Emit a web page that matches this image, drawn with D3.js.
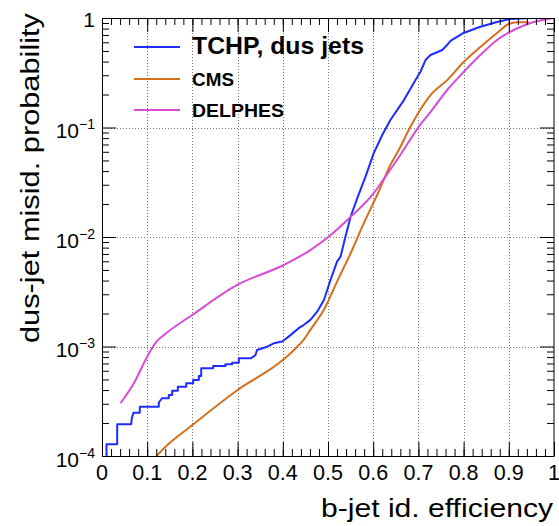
<!DOCTYPE html>
<html>
<head>
<meta charset="utf-8">
<script src="https://cdn.jsdelivr.net/npm/d3@7"></script>
<style>
  body { margin: 0; background: #fff; }
  svg { display: block; font-family: "Liberation Sans", Arial, Helvetica, sans-serif; }
</style>
</head>
<body>
<div id="chart"></div>
<script>
// TCHP, dus jets (step-like curve)
const tchpEff = [0.010, 0.010, 0.0336, 0.0336, 0.0646, 0.066, 0.0697, 0.0836, 0.0836, 0.1257, 0.1257, 0.1327, 0.1478, 0.1478,
  0.1553, 0.1553, 0.1677, 0.1677, 0.1863, 0.1863, 0.2018, 0.2018, 0.2142, 0.2142, 0.2195, 0.2195, 0.246, 0.246, 0.273, 0.273,
  0.288, 0.288, 0.3027, 0.3027, 0.330, 0.3396, 0.343, 0.3655, 0.380, 0.3987, 0.417, 0.435, 0.446, 0.461, 0.476, 0.491, 0.5055,
  0.520, 0.5277, 0.5387, 0.550, 0.5646, 0.583, 0.601, 0.620, 0.638, 0.668, 0.6936, 0.7046, 0.7157, 0.7268, 0.7527, 0.7637,
  0.771, 0.800, 0.837, 0.874, 0.904, 0.948];
const tchpMis = [1.0e-4, 1.28e-4, 1.28e-4, 1.95e-4, 1.95e-4, 2.22e-4, 2.48e-4, 2.48e-4, 2.82e-4, 2.82e-4, 3.08e-4, 3.37e-4, 3.37e-4, 3.61e-4,
  3.61e-4, 3.95e-4, 3.95e-4, 4.29e-4, 4.29e-4, 4.61e-4, 4.61e-4, 4.94e-4, 4.94e-4, 5.38e-4, 5.38e-4, 6.32e-4, 6.32e-4, 6.64e-4, 6.64e-4, 6.88e-4,
  6.88e-4, 7.11e-4, 7.11e-4, 7.80e-4, 7.80e-4, 8.36e-4, 9.29e-4, 9.96e-4, 1.07e-3, 1.11e-3, 1.27e-3, 1.47e-3, 1.57e-3, 1.75e-3, 2.08e-3, 2.66e-3, 4.05e-3,
  5.95e-3, 6.61e-3, 1.01e-2, 1.53e-2, 2.25e-2, 3.56e-2, 5.81e-2, 8.54e-2, 0.117, 0.178, 0.271, 0.323, 0.413, 0.459, 0.510, 0.567,
  0.617, 0.730, 0.833, 0.92, 0.98, 1.0];

const cmsEff = [0.1206, 0.1354, 0.200, 0.300, 0.402, 0.432, 0.446, 0.461, 0.4945, 0.520, 0.550, 0.579, 0.612, 0.638, 0.6566,
  0.6825, 0.7268, 0.7637, 0.800, 0.837, 0.874, 0.900, 0.9186, 0.944];
const cmsMis = [1.0e-4, 1.16e-4, 1.92e-4, 4.01e-4, 7.64e-4, 9.96e-4, 1.15e-3, 1.42e-3, 2.31e-3, 3.91e-3, 7.10e-3, 1.33e-2, 2.59e-2, 4.54e-2, 6.23e-2,
  0.102, 0.198, 0.271, 0.396, 0.543, 0.730, 0.881, 0.913, 0.913];

const delphesEff = [0.041, 0.0704, 0.100, 0.120, 0.140, 0.1996, 0.299, 0.402, 0.461, 0.502, 0.550, 0.598, 0.627, 0.660, 0.701,
  0.727, 0.7637, 0.800, 0.837, 0.874, 0.911, 0.948, 1.0];
const delphesMis = [3.03e-4, 4.61e-4, 8.07e-4, 1.10e-3, 1.30e-3, 1.94e-3, 3.65e-3, 5.55e-3, 7.60e-3, 1.01e-2, 1.53e-2, 2.42e-2, 3.56e-2, 5.61e-2, 0.102,
  0.139, 0.220, 0.321, 0.459, 0.630, 0.777, 0.90, 1.0];

const seriesNames = ["TCHP, dus jets", "CMS", "DELPHES"];
const seriesColors = ["#1f2bff", "#d2701e", "#d64cd8"];

const xTicks = [0, 0.1, 0.2, 0.3, 0.4, 0.5, 0.6, 0.7, 0.8, 0.9, 1];
const xTickLabels = ["0", "0.1", "0.2", "0.3", "0.4", "0.5", "0.6", "0.7", "0.8", "0.9", "1"];
const yTicks = [1, 1e-1, 1e-2, 1e-3, 1e-4];
const yExponents = ["", "\u22121", "\u22122", "\u22123", "\u22124"];

const W = 559, H = 526;
const margin = {top: 18, right: 5, bottom: 70, left: 102};
const width = W - margin.left - margin.right,
    height = H - margin.top - margin.bottom;

const svg = d3.select("#chart")
  .append("svg")
    .attr("width", W)
    .attr("height", H);

const g = svg.append("g")
    .attr("transform", "translate(" + margin.left + "," + margin.top + ")");

const x = d3.scaleLinear().domain([0, 1]).range([0, width]);
const y = d3.scaleLog().domain([1e-4, 1]).range([height, 0]);

// grid
const minorX = d3.range(0, 1.0001, 0.02);
const minorY = [];
[1e-4, 1e-3, 1e-2, 1e-1].forEach(d => { for (let k = 2; k <= 9; k++) minorY.push(d * k); });

g.append("g").selectAll("line")
  .data(xTicks.slice(1, -1))
  .join("line")
    .attr("x1", d => Math.round(x(d)) + 0.5)
    .attr("x2", d => Math.round(x(d)) + 0.5)
    .attr("y1", 0)
    .attr("y2", height)
    .attr("stroke", "#777")
    .attr("stroke-dasharray", "1,2");

g.append("g").selectAll("line")
  .data(yTicks.slice(1, -1))
  .join("line")
    .attr("x1", 0)
    .attr("x2", width)
    .attr("y1", d => Math.round(y(d)) + 0.5)
    .attr("y2", d => Math.round(y(d)) + 0.5)
    .attr("stroke", "#777")
    .attr("stroke-dasharray", "1,2");

// curves
g.append("clipPath").attr("id", "plotclip")
  .append("rect").attr("width", width).attr("height", height);

const stepLine = d3.line()
  .x(d => x(d[0]))
  .y(d => y(d[1]));
const smoothLine = d3.line()
  .x(d => x(d[0]))
  .y(d => y(d[1]))
  .curve(d3.curveMonotoneX);

const series = [
  d3.zip(tchpEff, tchpMis),
  d3.zip(cmsEff, cmsMis),
  d3.zip(delphesEff, delphesMis)
];

g.append("g")
  .attr("clip-path", "url(#plotclip)")
  .selectAll("path")
  .data(series)
  .join("path")
    .attr("d", (d, i) => i === 0 ? stepLine(d) : smoothLine(d))
    .attr("fill", "none")
    .attr("stroke", (d, i) => seriesColors[i])
    .attr("stroke-width", 2)
    .attr("stroke-linejoin", "round");

// axes, ROOT style: ticks inside on all four sides
function styleAxis(sel) {
  sel.select(".domain").remove();
  sel.selectAll(".tick line").attr("stroke", "#000");
  sel.selectAll(".tick text").remove();
}

g.append("g").attr("transform", "translate(0," + height + ")")
  .call(d3.axisBottom(x).tickValues(xTicks).tickSize(-14).tickFormat("")).call(styleAxis);
g.append("g").attr("transform", "translate(0," + height + ")")
  .call(d3.axisBottom(x).tickValues(minorX).tickSize(-7).tickFormat("")).call(styleAxis);
g.append("g")
  .call(d3.axisTop(x).tickValues(xTicks).tickSize(-14).tickFormat("")).call(styleAxis);
g.append("g")
  .call(d3.axisTop(x).tickValues(minorX).tickSize(-7).tickFormat("")).call(styleAxis);

g.append("g")
  .call(d3.axisLeft(y).tickValues(yTicks).tickSize(-14).tickFormat("")).call(styleAxis);
g.append("g")
  .call(d3.axisLeft(y).tickValues(minorY).tickSize(-7).tickFormat("")).call(styleAxis);
g.append("g").attr("transform", "translate(" + width + ",0)")
  .call(d3.axisRight(y).tickValues(yTicks).tickSize(-14).tickFormat("")).call(styleAxis);
g.append("g").attr("transform", "translate(" + width + ",0)")
  .call(d3.axisRight(y).tickValues(minorY).tickSize(-7).tickFormat("")).call(styleAxis);

g.append("rect")
  .attr("x", 0.5).attr("y", 0.5)
  .attr("width", width - 0.5).attr("height", height)
  .attr("fill", "none")
  .attr("stroke", "#000");

// tick labels
g.append("g").selectAll("text")
  .data(xTicks)
  .join("text")
    .attr("x", d => x(d))
    .attr("y", height + 24)
    .attr("text-anchor", "middle")
    .style("font-size", "21.5px")
    .text((d, i) => xTickLabels[i]);

const yLab = g.append("g").selectAll("text")
  .data(yTicks)
  .join("text")
    .attr("x", -7)
    .attr("y", d => y(d) + (d === 1 ? 9 : 10.5))
    .attr("text-anchor", "end")
    .style("font-size", "21px");
yLab.each(function(d, i) {
  const t = d3.select(this);
  if (i === 0) { t.text("1"); return; }
  t.append("tspan").text("10");
  t.append("tspan").attr("dy", -9).style("font-size", "14px").text(yExponents[i]);
});

// axis titles
svg.append("text")
  .attr("x", 553)
  .attr("y", 517)
  .attr("text-anchor", "end")
  .attr("textLength", 232)
  .attr("lengthAdjust", "spacingAndGlyphs")
  .style("font-size", "25px")
  .text("b-jet id. efficiency");

svg.append("text")
  .attr("transform", "translate(39,178) rotate(-90)")
  .attr("text-anchor", "middle")
  .attr("textLength", 330)
  .attr("lengthAdjust", "spacingAndGlyphs")
  .style("font-size", "26px")
  .text("dus-jet misid. probability");

// legend
const legendY = [47, 79, 110];
const legendSize = [23, 18.5, 18.5];
const legendLen = [172, 42, 92];
const legend = svg.append("g").selectAll("g")
  .data(seriesNames)
  .join("g")
    .attr("transform", (d, i) => "translate(0," + legendY[i] + ")");
legend.append("line")
  .attr("x1", 134).attr("x2", 180)
  .attr("stroke", (d, i) => seriesColors[i])
  .attr("stroke-width", 2);
legend.append("text")
  .attr("x", 192)
  .attr("dy", (d, i) => i === 0 ? 7 : 6.5)
  .attr("textLength", (d, i) => legendLen[i])
  .attr("lengthAdjust", "spacingAndGlyphs")
  .style("font-weight", "bold")
  .style("font-size", (d, i) => legendSize[i] + "px")
  .text(d => d);
</script>
</body>
</html>
